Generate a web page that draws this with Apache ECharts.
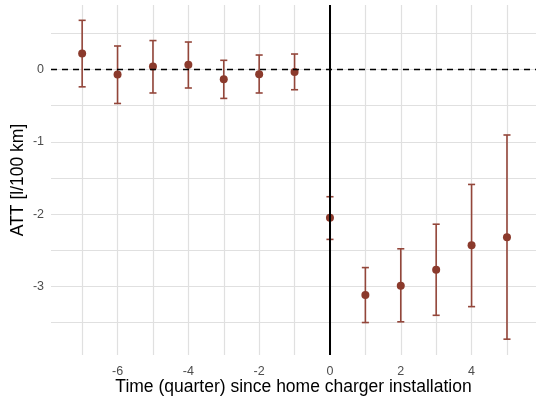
<!DOCTYPE html>
<html>
<head>
<meta charset="utf-8">
<script src="https://cdn.jsdelivr.net/npm/echarts@6/dist/echarts.min.js"></script>
<style>html,body{margin:0;padding:0;background:#fff}#c{width:536px;height:402px}</style>
</head>
<body>
<div id="c"></div>
<script>
var quarters = [-7, -6, -5, -4, -3, -2, -1, 0, 1, 2, 3, 4, 5];
var att      = [0.22, -0.07, 0.04, 0.066, -0.136, -0.066, -0.035, -2.05, -3.12, -2.99, -2.77, -2.43, -2.32];
var ciLow    = [-0.24, -0.47, -0.325, -0.256, -0.40, -0.325, -0.28, -2.35, -3.50, -3.49, -3.40, -3.28, -3.73];
var ciHigh   = [0.68, 0.325, 0.40, 0.38, 0.127, 0.20, 0.214, -1.76, -2.74, -2.48, -2.14, -1.59, -0.906];
var xTickLabels = [-6, -4, -2, 0, 2, 4];
var xGrid = [-7, -6, -5, -4, -3, -2, -1, 0, 1, 2, 3, 4, 5];
var yTickLabels = [0, -1, -2, -3];
var yGrid = [0.5, 0, -0.5, -1, -1.5, -2, -2.5, -3, -3.5];

var pts = quarters.map(function (q, i) { return [q, att[i]]; });
var bars = quarters.map(function (q, i) { return [q, ciLow[i], ciHigh[i]]; });

var chart = echarts.init(document.getElementById('c'), null, {renderer: 'canvas'});
var gridColor = '#e0e0e0';
chart.setOption({
  animation: false,
  backgroundColor: '#ffffff',
  grid: {left: 51, right: 0, top: 5, bottom: 47, containLabel: false, outerBoundsMode: 'none'},
  xAxis: {
    type: 'value', min: -7.88, max: 5.82,
    name: 'Time (quarter) since home charger installation',
    nameLocation: 'middle', nameGap: 23, nameMoveOverlap: false,
    nameTextStyle: {color: '#000', fontSize: 17.5, fontFamily: 'Liberation Sans'},
    axisLine: {show: false},
    axisTick: {show: false, customValues: xGrid},
    axisLabel: {customValues: xTickLabels, color: '#4d4d4d', fontSize: 12.5, fontFamily: 'Liberation Sans', margin: 10},
    splitLine: {show: true, lineStyle: {color: gridColor, width: 1.2}}
  },
  yAxis: {
    type: 'value', min: -3.949, max: 0.892,
    name: 'ATT [l/100 km]',
    nameLocation: 'middle', nameGap: 24, nameMoveOverlap: false,
    nameTextStyle: {color: '#000', fontSize: 17.5, fontFamily: 'Liberation Sans'},
    axisLine: {show: false},
    axisTick: {show: false, customValues: yGrid},
    axisLabel: {customValues: yTickLabels, color: '#4d4d4d', fontSize: 12.5, fontFamily: 'Liberation Sans', margin: 7},
    splitLine: {show: true, lineStyle: {color: gridColor, width: 1.2}}
  },
  series: [
    {
      type: 'line', data: [], z: 2,
      markLine: {
        silent: true, symbol: 'none', label: {show: false},
        lineStyle: {color: '#000', type: [6, 5], width: 1.4},
        data: [{yAxis: 0}]
      }
    },
    {
      type: 'custom', z: 3,
      data: bars,
      encode: {x: 0, y: [1, 2]},
      renderItem: function (params, api) {
        var x = api.value(0);
        var lo = api.coord([x, api.value(1)]);
        var hi = api.coord([x, api.value(2)]);
        var hw = api.size([0.1, 0])[0];
        var st = {stroke: '#93463a', lineWidth: 1.6};
        return {
          type: 'group',
          children: [
            {type: 'line', shape: {x1: lo[0], y1: lo[1], x2: hi[0], y2: hi[1]}, style: st},
            {type: 'line', shape: {x1: lo[0] - hw, y1: lo[1], x2: lo[0] + hw, y2: lo[1]}, style: st},
            {type: 'line', shape: {x1: hi[0] - hw, y1: hi[1], x2: hi[0] + hw, y2: hi[1]}, style: st}
          ]
        };
      }
    },
    {
      type: 'scatter', z: 4, data: pts, symbolSize: 8,
      itemStyle: {color: '#8b3a2c', opacity: 1}
    },
    {
      type: 'line', data: [], z: 5,
      markLine: {
        silent: true, symbol: 'none', label: {show: false}, z: 5,
        lineStyle: {color: '#000', type: 'solid', width: 2},
        data: [{xAxis: 0}]
      }
    }
  ]
});
</script>
</body>
</html>
